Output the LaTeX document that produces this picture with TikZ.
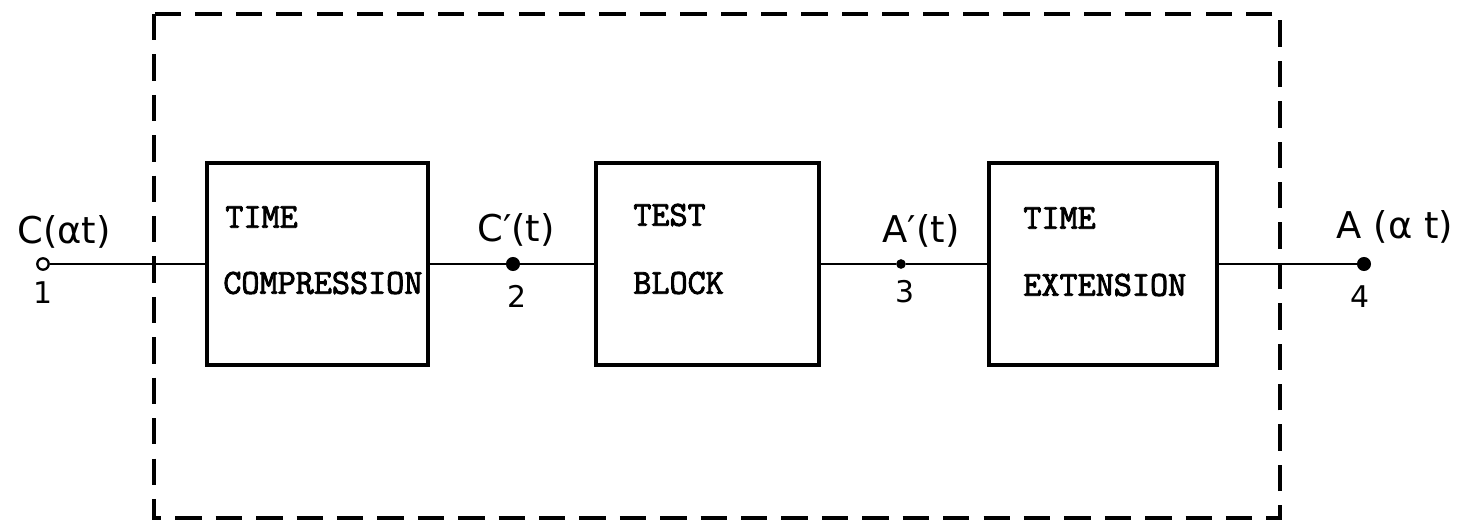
\documentclass[tikz,border=0pt]{standalone}
\usepackage{fontspec}
\newfontfamily\typefont{Latin Modern Mono}[FakeBold=2.5]
\newfontfamily\handfont{DejaVu Sans}

\begin{document}
\begin{tikzpicture}[x=0.02cm, y=-0.02cm,
  block/.style={draw=black, line width=1.9pt, minimum height=4.04cm, inner sep=0pt},
  blocktext/.style={anchor=west, inner sep=0pt, font=\typefont\fontsize{20}{22}\selectfont},
  sig/.style={inner sep=0pt, font=\handfont\fontsize{21}{24}\selectfont},
  num/.style={inner sep=0pt, font=\handfont\fontsize{17}{20}\selectfont},
  wire/.style={black, line width=1.6pt},
  dot/.style={circle, fill=black, inner sep=0pt}]
  % --- compression / test / extension chain, 1 unit = 1px ---
  \useasboundingbox (0,0) rectangle (1481,521);
  \def\ly{264}

  % Dashed frame round the blocks
  \draw[black, line width=2pt, dash pattern=on 15pt off 8pt] (154,14) rectangle (1280,518);

  % Blocks
  \node[block, minimum width=4.42cm] (comp) at (317.5,\ly) {};
  \node[block, minimum width=4.46cm] (test) at (707.5,\ly) {};
  \node[block, minimum width=4.56cm] (ext)  at (1103,\ly) {};

  % Block texts
  \node[blocktext] (comptop) at (225,217) {TIME};
  \node[blocktext] (compbot) at (223,283) {COMPRESSION};
  \node[blocktext] (testtop) at (633,215) {TEST};
  \node[blocktext] (testbot) at (633,283) {BLOCK};
  \node[blocktext] (exttop)  at (1023,218) {TIME};
  \node[blocktext] (extbot)  at (1023,285) {EXTENSION};

  % Terminals
  \node[circle, draw=black, line width=1.3pt, inner sep=0pt, minimum size=6.5pt] (in) at (43,\ly) {};
  \node[dot, minimum size=8pt] (c2)  at (513,\ly) {};
  \node[dot, minimum size=5.5pt] (a3) at (901,\ly) {};
  \node[dot, minimum size=8pt] (out) at (1364,\ly) {};

  % Connectors
  \draw[wire] (in) -- (comp);
  \draw[wire] (comp) -- (c2) -- (test);
  \draw[wire] (test) -- (a3) -- (ext);
  \draw[wire] (ext) -- (out);

  % Signal names and terminal numbers
  \node[sig] (inlbl)  at (64,232)   {C(αt)};
  \node[sig] (c2lbl)  at (516,230)  {C′(t)};
  \node[sig] (a3lbl)  at (921,231)  {A′(t)};
  \node[sig] (outlbl) at (1395,227) {A (α t)};
  \node[num] (innum)  at (43,293)   {1};
  \node[num] (c2num)  at (517,296)  {2};
  \node[num] (a3num)  at (905,292)  {3};
  \node[num] (outnum) at (1360,297) {4};
\end{tikzpicture}
\end{document}
